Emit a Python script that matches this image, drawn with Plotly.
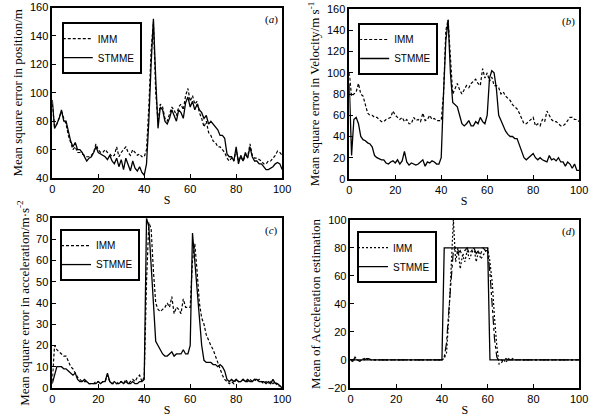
import plotly.graph_objects as go
from plotly.subplots import make_subplots

t = list(range(101))

# (a) position error
pos_imm = [92, 76, 78, 82, 87, 82, 78, 70, 64, 60, 62, 58, 58, 57, 56, 55, 55, 56, 58, 64,
           60, 58, 58, 60, 58, 57, 55, 56, 62, 55, 58, 60, 62, 58, 56, 60, 58, 56, 57, 55,
           55, 60, 90, 130, 150, 100, 80, 92, 90, 82, 80, 85, 90, 88, 84, 90, 92, 88, 98, 103,
           94, 98, 92, 94, 86, 82, 76, 80, 72, 70, 66, 65, 62, 62, 60, 58, 54, 52, 54, 52,
           60, 52, 55, 52, 56, 55, 64, 56, 54, 54, 53, 52, 50, 50, 52, 52, 54, 56, 59, 58, 56]
pos_stmme = [95, 75, 78, 82, 88, 80, 80, 72, 66, 62, 65, 60, 60, 58, 55, 52, 54, 55, 58, 62,
             58, 57, 56, 55, 53, 56, 52, 50, 54, 48, 53, 46, 54, 50, 45, 52, 47, 45, 48, 44,
             42, 50, 80, 120, 152, 110, 75, 90, 88, 80, 78, 82, 88, 84, 80, 88, 86, 82, 93, 97,
             90, 94, 88, 92, 88, 86, 82, 84, 78, 80, 78, 76, 74, 70, 70, 68, 57, 55, 55, 52,
             62, 50, 56, 52, 58, 54, 62, 55, 52, 52, 50, 50, 48, 46, 46, 47, 48, 50, 51, 50, 46]

# (b) velocity error
vel_imm = [100, 78, 80, 82, 90, 80, 78, 70, 62, 60, 60, 58, 58, 56, 54, 54, 56, 57, 58, 64,
           60, 58, 56, 58, 54, 56, 52, 52, 58, 55, 56, 54, 62, 55, 56, 60, 56, 57, 55, 55,
           55, 80, 140, 150, 115, 80, 85, 90, 84, 80, 84, 88, 86, 90, 92, 94, 90, 88, 104, 95,
           100, 92, 96, 88, 88, 86, 80, 82, 78, 76, 74, 70, 68, 66, 62, 56, 52, 52, 54, 56,
           58, 50, 52, 50, 56, 54, 64, 60, 56, 54, 54, 52, 50, 50, 52, 55, 58, 58, 56, 56, 54]
vel_stmme = [90, 22, 56, 58, 52, 40, 37, 36, 34, 33, 30, 22, 20, 19, 18, 18, 15, 14, 16, 17,
             15, 18, 14, 17, 26, 16, 13, 15, 14, 13, 14, 16, 18, 12, 16, 15, 17, 16, 14, 14,
             20, 80, 130, 150, 100, 72, 70, 68, 60, 52, 50, 52, 55, 50, 50, 54, 52, 58, 54, 52,
             60, 95, 102, 100, 85, 60, 55, 50, 45, 42, 40, 40, 38, 38, 32, 25, 20, 18, 20, 22,
             24, 20, 18, 20, 18, 17, 16, 22, 18, 19, 17, 20, 16, 16, 12, 16, 14, 10, 14, 8, 8]

# (c) acceleration error
acc_imm = [3, 20, 18, 17, 16, 15, 15, 12, 10, 9, 7, 5, 4, 3, 3, 3, 2, 2, 2, 3,
           3, 2, 3, 3, 6, 3, 2, 2, 2, 3, 3, 2, 4, 2, 3, 4, 3, 5, 6, 3,
           5, 50, 78, 75, 55, 40, 37, 36, 37, 38, 40, 38, 43, 35, 38, 37, 35, 42, 38, 38,
           38, 60, 68, 55, 40, 33, 30, 25, 22, 20, 18, 15, 12, 8, 6, 4, 3, 2, 3, 2,
           4, 3, 3, 4, 3, 3, 4, 3, 4, 3, 4, 3, 2, 3, 2, 3, 2, 3, 1, 1, 0]
acc_stmme = [2, 6, 10, 10, 10, 9, 9, 8, 7, 6, 7, 4, 3, 3, 4, 3, 2, 2, 2, 2,
             3, 2, 3, 3, 7, 3, 2, 3, 2, 2, 3, 2, 3, 2, 2, 3, 2, 2, 3, 3,
             4, 80, 76, 60, 40, 22, 20, 18, 16, 15, 15, 16, 17, 15, 16, 16, 16, 18, 16, 16,
             20, 73, 60, 45, 30, 20, 13, 12, 12, 12, 11, 11, 10, 11, 10, 8, 4, 3, 4, 3,
             4, 3, 3, 4, 3, 4, 3, 3, 4, 4, 3, 3, 3, 2, 3, 2, 4, 2, 2, 1, 0]

# (d) mean of acceleration estimation
est_imm = [0, -1, 1, 0, -1, 0, 1, 0, 1, 0, 0, 0, 0, 0, 0, 0, 0, 0, 0, 0,
           0, 0, 0, 0, 0, 0, 0, 0, 0, 0, 0, 0, 0, 0, 0, 0, 0, 0, 0, 0,
           0, 1, 5, 30, 60, 100, 70, 80, 65, 75, 70, 78, 72, 76, 80, 70, 78, 72, 75, 78,
           80, 70, 55, 30, 10, -3, -2, 0, -2, 1, 0, 1, 0, 0, 0, 0, 0, 0, 0, 0,
           0, 0, 0, 0, 0, 0, 0, 0, 0, 0, 0, 0, 0, 0, 0, 0, 0, 0, 0, 0, 0]
est_alt = [0, -1, 2, 0, -1, 1, 0, 1, 1, 0, 0, 0, 0, 0, 0, 0, 0, 0, 0, 0,
           0, 0, 0, 0, 0, 0, 0, 0, 0, 0, 0, 0, 0, 0, 0, 0, 0, 0, 0, 0,
           0, 2, 12, 35, 60, 78, 80, 76, 78, 74, 78, 80, 76, 78, 80, 76, 78, 76, 80, 78,
           78, 62, 40, 15, 2, -1, 0, -1, 1, 0, 0, 0, 0, 0, 0, 0, 0, 0, 0, 0,
           0, 0, 0, 0, 0, 0, 0, 0, 0, 0, 0, 0, 0, 0, 0, 0, 0, 0, 0, 0, 0]
est_stmme = [0, 0, 0, 0, 0, 0, 0, 0, 0, 0, 0, 0, 0, 0, 0, 0, 0, 0, 0, 0,
             0, 0, 0, 0, 0, 0, 0, 0, 0, 0, 0, 0, 0, 0, 0, 0, 0, 0, 0, 0,
             0, 80, 80, 80, 80, 80, 80, 80, 80, 80, 80, 80, 80, 80, 80, 80, 80, 80, 80, 80,
             80, 0, 0, 0, 0, 0, 0, 0, 0, 0, 0, 0, 0, 0, 0, 0, 0, 0, 0, 0,
             0, 0, 0, 0, 0, 0, 0, 0, 0, 0, 0, 0, 0, 0, 0, 0, 0, 0, 0, 0, 0]

panels = [
    (1, 1, pos_imm, pos_stmme, "3px,2px", "legend", "Mean square error in position/m", [40, 160], 20),
    (1, 2, vel_imm, vel_stmme, "3px,2px", "legend2", "Mean square error in Velocity/m s<sup>-1</sup>", [0, 160], 20),
    (2, 1, acc_imm, acc_stmme, "3px,2px", "legend3", "Mean square error in acceleration/m·s<sup>-2</sup>", [0, 80], 10),
    (2, 2, est_imm, est_stmme, "2px,2px", "legend4", "Mean of Acceleration estimation", [-20, 100], 20),
]

fig = make_subplots(rows=2, cols=2)

serif = "Liberation Serif"
sans = "Liberation Sans"

for r, c, imm, stm, dash, leg, ytitle, yr, ydt in panels:
    fig.add_trace(go.Scatter(x=t, y=imm, mode="lines", name="IMM", legend=leg,
                             line=dict(color="black", width=1.2, dash=dash)), row=r, col=c)
    if leg == "legend4":
        fig.add_trace(go.Scatter(x=t, y=est_alt, mode="lines", showlegend=False,
                                 line=dict(color="black", width=1.2, dash="dashdot")), row=r, col=c)
    fig.add_trace(go.Scatter(x=t, y=stm, mode="lines", name="STMME", legend=leg,
                             line=dict(color="black", width=1.3)), row=r, col=c)
    fig.update_xaxes(range=[0, 100], dtick=20, row=r, col=c,
                     title=dict(text="S", font=dict(family=serif, size=12, color="black"), standoff=2))
    fig.update_yaxes(range=yr, dtick=ydt, row=r, col=c,
                     title=dict(text=ytitle, font=dict(family=serif, size=13, color="black"), standoff=4))

fig.update_xaxes(showgrid=False, zeroline=False, showline=True, linecolor="black", linewidth=1.5,
                 mirror=True, ticks="inside", ticklen=4, tickcolor="black", automargin=False,
                 tickfont=dict(family=sans, size=11, color="black"))
fig.update_yaxes(showgrid=False, zeroline=False, showline=True, linecolor="black", linewidth=1.5,
                 mirror=True, ticks="inside", ticklen=4, tickcolor="black", automargin=False,
                 tickfont=dict(family=sans, size=11, color="black"))

# place panels
fig.update_layout(
    xaxis=dict(domain=[0.088, 0.475]), yaxis=dict(domain=[0.574, 0.982]),
    xaxis2=dict(domain=[0.588, 0.975]), yaxis2=dict(domain=[0.572, 0.978]),
    xaxis3=dict(domain=[0.088, 0.475]), yaxis3=dict(domain=[0.072, 0.478]),
    xaxis4=dict(domain=[0.590, 0.975]), yaxis4=dict(domain=[0.072, 0.474]),
)

leg_style = dict(bgcolor="white", bordercolor="black", borderwidth=2,
                 font=dict(family=sans, size=10, color="black"),
                 xanchor="left", yanchor="top", tracegroupgap=0, itemwidth=30,
                 indentation=-6)
fig.update_layout(
    legend=dict(x=0.104, y=0.947, **leg_style),
    legend2=dict(x=0.603, y=0.945, **leg_style),
    legend3=dict(x=0.101, y=0.452, **leg_style),
    legend4=dict(x=0.601, y=0.447, **leg_style),
)

tags = [("x domain", "y domain", "(<i>a</i>)"), ("x2 domain", "y2 domain", "(<i>b</i>)"),
        ("x3 domain", "y3 domain", "(<i>c</i>)"), ("x4 domain", "y4 domain", "(<i>d</i>)")]
for xr, yr_, txt in tags:
    fig.add_annotation(xref=xr, yref=yr_, x=0.99, y=0.98, text=txt, showarrow=False,
                       xanchor="right", yanchor="top", font=dict(family=serif, size=11, color="black"))

fig.update_layout(width=594, height=418, margin=dict(l=0, r=0, t=0, b=0),
                  paper_bgcolor="white", plot_bgcolor="white", showlegend=True)

# drop the browser's default body margin so the figure sits at the page corner
fig.write_html("out.html", config={"displayModeBar": False},
               post_script="document.body.style.margin='0';document.body.style.overflow='hidden';")
